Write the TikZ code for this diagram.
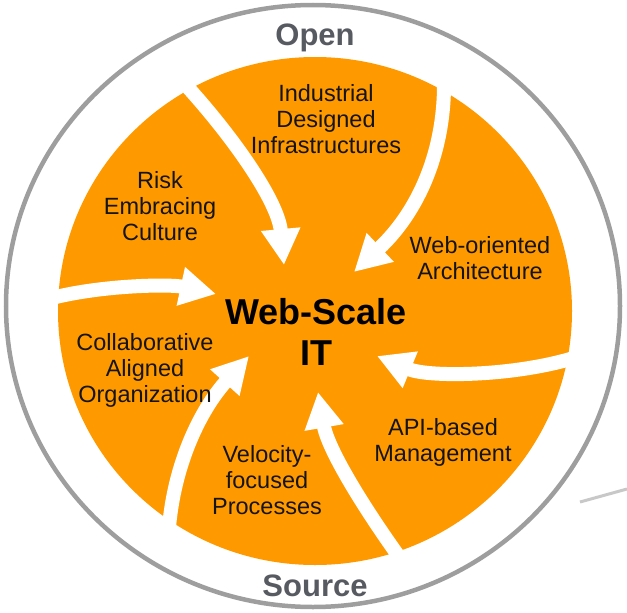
\documentclass[tikz,border=0pt]{standalone}
\usepackage{fontspec}
\setmainfont{Liberation Sans}
\usetikzlibrary{arrows.meta}
\definecolor{WebOrange}{HTML}{FF9900}
\definecolor{RingGrey}{HTML}{9E9E9E}
\definecolor{StrayGrey}{HTML}{C8C8C8}
\definecolor{LabelGrey}{HTML}{575A61}
\definecolor{TextBlack}{HTML}{141414}

\begin{document}
\begin{tikzpicture}[x=1pt, y=-1pt,
    lbl/.style={align=center, text=TextBlack, inner sep=0pt, font=\fontsize{23.5}{26}\selectfont},
    rimlbl/.style={text=LabelGrey, inner sep=0pt, font=\bfseries\fontsize{31}{34}\selectfont},
    swirl/.style={draw=white, line width=14pt, -{Triangle[width=37pt, length=36pt]}}
  ]
  \useasboundingbox (0,0) rectangle (627,613);
  \draw[StrayGrey, line width=3pt] (580,502) -- (627,489);
  \draw[RingGrey, line width=4.5pt] (313,306) ellipse [x radius=307pt, y radius=301pt];
  \fill[WebOrange] (315,311) ellipse [x radius=257pt, y radius=254pt];

  \coordinate (tail1) at (183,82);
  \coordinate (tip1) at (284,265);
  \coordinate (tail2) at (444,85);
  \coordinate (tip2) at (354,272);
  \coordinate (tail3) at (580,356);
  \coordinate (tip3) at (377,356);
  \coordinate (tail4) at (405,565);
  \coordinate (tip4) at (318,392);
  \coordinate (tail5) at (168,545);
  \coordinate (tip5) at (249,356);
  \coordinate (tail6) at (48,299);
  \coordinate (tip6) at (216,294);

  \draw[swirl] (tail1) .. controls (230,133) and (278,200) .. (tip1);
  \draw[swirl] (tail2) .. controls (444,150) and (420,210) .. (tip2);
  \draw[swirl] (tail3) .. controls (520,376) and (430,378) .. (tip3);
  \draw[swirl] (tail4) .. controls (365,510) and (328,450) .. (tip4);
  \draw[swirl] (tail5) .. controls (170,470) and (200,410) .. (tip5);
  \draw[swirl] (tail6) .. controls (100,285) and (170,284) .. (tip6);

  \node[rimlbl] (open) at (315,38) {Open};
  \node[rimlbl] (source) at (315,586) {Source};
  \node[font=\bfseries\fontsize{36}{41}\selectfont, align=center, inner sep=0pt] (core) at (316,331.5) {Web-Scale\\IT};

  \node[lbl] (infra) at (326,119) {Industrial\\Designed\\Infrastructures};
  \node[lbl] (risk) at (160,206.5) {Risk\\Embracing\\Culture};
  \node[lbl] (weborient) at (480,258) {Web-oriented\\Architecture};
  \node[lbl] (collab) at (145,370) {Collaborative\\Aligned\\Organization};
  \node[lbl] (api) at (443,442.5) {API-based\\Management};
  \node[lbl] (velocity) at (267,480.5) {Velocity-\\focused\\Processes};
\end{tikzpicture}
\end{document}
